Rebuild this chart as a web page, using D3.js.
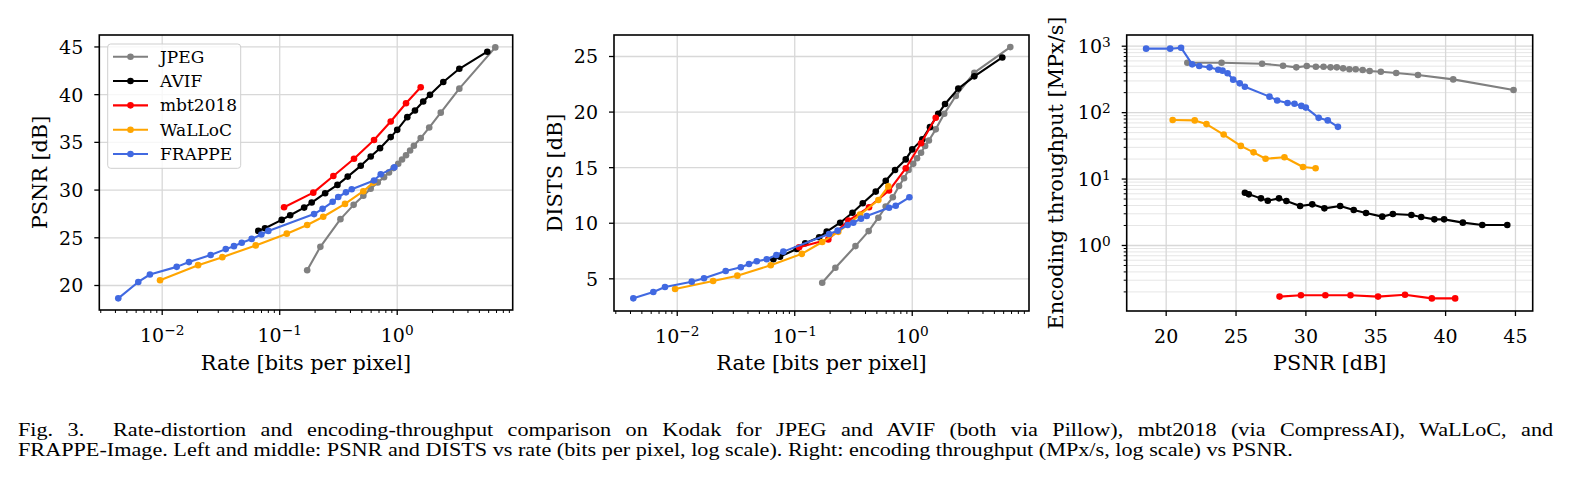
<!DOCTYPE html>
<html>
<head>
<meta charset="utf-8">
<script src="https://cdn.jsdelivr.net/npm/d3@7/dist/d3.min.js"></script>
<style>
  body { margin: 0; background: #fff; width: 1574px; height: 491px; overflow: hidden; position: relative; }
  svg text { font-family: "DejaVu Serif", serif; fill: #000; }
  .cap { position: absolute; left: 18px; width: 1245px; font-family: "Liberation Serif", "Times New Roman", serif;
         font-size: 18px; line-height: 20px; color: #000; transform: scaleX(1.233); transform-origin: 0 0; }
  #cap1 { top: 420px; text-align: justify; text-align-last: justify; white-space: nowrap; }
  #cap2 { top: 440px; white-space: nowrap; }
</style>
</head>
<body>
<svg id="fig" width="1574" height="400"></svg>
<div class="cap" id="cap1">Fig. 3.&nbsp; Rate-distortion and encoding-throughput comparison on Kodak for JPEG and AVIF (both via Pillow), mbt2018 (via CompressAI), WaLLoC, and</div>
<div class="cap" id="cap2">FRAPPE-Image. Left and middle: PSNR and DISTS vs rate (bits per pixel, log scale). Right: encoding throughput (MPx/s, log scale) vs PSNR.</div>
<script>
// codecs, in plot order
const codecs = ["JPEG", "AVIF", "mbt2018", "WaLLoC", "FRAPPE"];
const colors = ["#808080", "#000000", "#ff0000", "#ffa500", "#4169e1"];

// rate [bpp], PSNR [dB], DISTS [dB], encoding throughput [MPx/s]
const jpegRate  = [0.173, 0.224, 0.332, 0.43, 0.52, 0.60, 0.69, 0.78, 0.86, 0.94, 1.03, 1.11, 1.20, 1.30, 1.40, 1.60, 1.89, 2.37, 3.41, 6.9];
const jpegPsnr  = [21.55, 24.0, 26.9, 28.4, 29.35, 30.1, 30.75, 31.3, 31.8, 32.25, 32.7, 33.15, 33.6, 34.1, 34.6, 35.4, 36.5, 38.06, 40.58, 44.9];
const jpegDists = [4.6, 5.95, 7.9, 9.25, 10.45, 11.45, 12.3, 13.3, 14.0, 14.75, 15.3, 15.8, 16.3, 16.9, 17.4, 18.4, 19.8, 21.4, 23.5, 25.8];
const jpegSpeed = [555, 555, 536, 500, 472, 494, 483, 483, 472, 472, 456, 441, 441, 431, 416, 406, 388, 362, 311, 215];

const avifRate  = [0.0664, 0.0757, 0.105, 0.124, 0.163, 0.189, 0.246, 0.313, 0.383, 0.494, 0.601, 0.721, 0.889, 1.01, 1.23, 1.43, 1.68, 1.92, 2.49, 3.41, 5.90];
const avifPsnr  = [25.67, 25.95, 26.82, 27.31, 28.11, 28.64, 29.62, 30.49, 31.36, 32.49, 33.46, 34.34, 35.5, 36.26, 37.59, 38.29, 39.23, 39.93, 41.27, 42.66, 44.45];
const avifDists = [6.71, 6.95, 7.64, 8.15, 8.69, 9.20, 10.0, 10.9, 11.75, 12.8, 13.78, 14.75, 15.7, 16.6, 17.5, 18.6, 19.8, 20.68, 22.07, 23.17, 24.87];
const avifSpeed = [6.12, 5.78, 5.03, 4.64, 5.03, 4.59, 3.86, 4.09, 3.56, 3.86, 3.36, 3.03, 2.67, 2.92, 2.82, 2.64, 2.43, 2.43, 2.17, 2.0, 2.0];

const mbtRate  = [0.110, 0.195, 0.289, 0.433, 0.641, 0.889, 1.20, 1.60];
const mbtPsnr  = [28.15, 29.68, 31.43, 33.23, 35.2, 37.13, 39.05, 40.72];
const mbtDists = [7.8, 8.5, 10.2, 11.4, 12.9, 14.9, 17.15, 19.45];
const mbtSpeed = [0.167, 0.175, 0.175, 0.175, 0.167, 0.178, 0.157, 0.157];

const wallocRate  = [0.00968, 0.0204, 0.0328, 0.0631, 0.116, 0.173, 0.237, 0.363, 0.520, 0.632];
const wallocPsnr  = [20.5, 22.08, 22.92, 24.15, 25.38, 26.29, 27.15, 28.5, 29.83, 30.73];
const wallocDists = [4.04, 4.76, 5.24, 6.17, 7.2, 8.27, 9.18, 10.73, 12.05, 13.27];
const wallocSpeed = [76, 75, 66, 46, 31, 24.8, 19.9, 20.9, 14.9, 14.3];

const frappeRate  = [0.00427, 0.00632, 0.00794, 0.01342, 0.01707, 0.0261, 0.0351, 0.0412, 0.0480, 0.0583, 0.0705, 0.0808, 0.198, 0.234, 0.285, 0.318, 0.370, 0.414, 0.641, 0.731, 0.955];
const frappePsnr  = [18.6, 20.32, 21.1, 21.9, 22.4, 23.14, 23.76, 24.07, 24.43, 24.83, 25.3, 25.67, 27.43, 27.98, 28.72, 29.22, 29.71, 30.03, 30.95, 31.6, 32.33];
const frappeDists = [3.20, 3.77, 4.22, 4.70, 5.0, 5.66, 5.99, 6.29, 6.53, 6.71, 7.10, 7.40, 8.99, 9.29, 9.80, 10.0, 10.37, 10.61, 11.35, 11.53, 12.29];
const frappeSpeed = [902, 902, 933, 524, 494, 472, 435, 421, 384, 308, 271, 241, 171, 150, 137, 134, 124, 117, 82, 75, 60];

// tick values
const rateTicks = [1e-2, 1e-1, 1e0];
const psnrTicks = [20, 25, 30, 35, 40, 45];
const distsTicks = [5, 10, 15, 20, 25];
const speedTicks = [1e0, 1e1, 1e2, 1e3];

const series = [
  {rate: jpegRate, psnr: jpegPsnr, dists: jpegDists, speed: jpegSpeed},
  {rate: avifRate, psnr: avifPsnr, dists: avifDists, speed: avifSpeed},
  {rate: mbtRate, psnr: mbtPsnr, dists: mbtDists, speed: mbtSpeed},
  {rate: wallocRate, psnr: wallocPsnr, dists: wallocDists, speed: wallocSpeed},
  {rate: frappeRate, psnr: frappePsnr, dists: frappeDists, speed: frappeSpeed}
].map((s, i) => ({...s, name: codecs[i], color: colors[i]}));

const svg = d3.select("#fig");
const FS = 19;      // tick labels
const LFS = 20.8;   // axis labels

function logMinor(lo, hi) {
  const out = [];
  for (let e = Math.floor(Math.log10(lo)); e <= Math.ceil(Math.log10(hi)); e++)
    for (let k = 2; k <= 9; k++) {
      const v = k * Math.pow(10, e);
      if (v >= lo && v <= hi) out.push(v);
    }
  return out;
}

function pow10Label(sel) {
  sel.each(function(d) {
    const t = d3.select(this);
    const e = Math.round(Math.log10(d));
    t.text(null);
    t.append("tspan").text("10");
    t.append("tspan").attr("dy", "-0.45em").attr("font-size", "0.72em")
      .text(e < 0 ? "\u2212" + (-e) : String(e));
  });
}

function panel(cfg) {
  const {left, right, top, bottom} = cfg;
  const g = svg.append("g");
  const x = cfg.xLog ? d3.scaleLog() : d3.scaleLinear();
  x.domain(cfg.xDomain).range([left, right]);
  const y = cfg.yLog ? d3.scaleLog() : d3.scaleLinear();
  y.domain(cfg.yDomain).range([bottom, top]);

  // grid
  if (cfg.yLog) {
    g.append("g").attr("transform", `translate(${left},0)`)
      .call(d3.axisLeft(y).tickValues(logMinor(cfg.yDomain[0], cfg.yDomain[1])).tickSize(-(right - left)).tickFormat(""))
      .call(a => a.select(".domain").remove())
      .call(a => a.selectAll("line").attr("stroke", "#e6e6e6").attr("stroke-width", 1));
  }
  g.append("g").attr("transform", `translate(${left},0)`)
    .call(d3.axisLeft(y).tickValues(cfg.yTicks).tickSize(-(right - left)).tickFormat(""))
    .call(a => a.select(".domain").remove())
    .call(a => a.selectAll("line").attr("stroke", "#d8d8d8").attr("stroke-width", 1.3));
  g.append("g").attr("transform", `translate(0,${bottom})`)
    .call(d3.axisBottom(x).tickValues(cfg.xTicks).tickSize(-(bottom - top)).tickFormat(""))
    .call(a => a.select(".domain").remove())
    .call(a => a.selectAll("line").attr("stroke", "#d8d8d8").attr("stroke-width", 1.3));

  // data
  const clip = "clip" + cfg.id;
  g.append("clipPath").attr("id", clip).append("rect")
    .attr("x", left).attr("y", top).attr("width", right - left).attr("height", bottom - top);
  const marks = g.append("g").attr("clip-path", `url(#${clip})`);
  series.forEach(s => {
    const pts = s[cfg.xKey].map((v, i) => [x(v), y(s[cfg.yKey][i])]);
    marks.append("path").attr("d", d3.line()(pts))
      .attr("fill", "none").attr("stroke", s.color).attr("stroke-width", 2.1)
      .attr("stroke-linejoin", "round");
    marks.selectAll(null).data(pts).join("circle")
      .attr("cx", d => d[0]).attr("cy", d => d[1]).attr("r", 3.3).attr("fill", s.color);
  });

  // axes
  const xa = g.append("g").attr("transform", `translate(0,${bottom})`);
  xa.call(d3.axisBottom(x).tickValues(cfg.xTicks).tickSize(5).tickPadding(0));
  xa.select(".domain").remove();
  xa.selectAll("line").attr("stroke-width", 1.3);
  xa.selectAll("text").attr("font-size", FS).attr("font-family", "DejaVu Serif").attr("y", 31.5).attr("dy", 0);
  if (cfg.xLog) {
    xa.selectAll(".tick text").call(pow10Label);
    const xm = g.append("g").attr("transform", `translate(0,${bottom})`)
      .call(d3.axisBottom(x).tickValues(logMinor(cfg.xDomain[0], cfg.xDomain[1])).tickSize(3).tickFormat(""));
    xm.select(".domain").remove();
    xm.selectAll("line").attr("stroke-width", 1);
  }
  const ya = g.append("g").attr("transform", `translate(${left},0)`);
  ya.call(d3.axisLeft(y).tickValues(cfg.yTicks).tickSize(5).tickPadding(11));
  ya.select(".domain").remove();
  ya.selectAll("line").attr("stroke-width", 1.3);
  ya.selectAll("text").attr("font-size", FS).attr("font-family", "DejaVu Serif").attr("dy", "0.36em");
  if (cfg.yLog) {
    ya.selectAll(".tick text").call(pow10Label);
    const ym = g.append("g").attr("transform", `translate(${left},0)`)
      .call(d3.axisLeft(y).tickValues(logMinor(cfg.yDomain[0], cfg.yDomain[1])).tickSize(3).tickFormat(""));
    ym.select(".domain").remove();
    ym.selectAll("line").attr("stroke-width", 1);
  }

  // frame
  g.append("rect").attr("x", left).attr("y", top).attr("width", right - left).attr("height", bottom - top)
    .attr("fill", "none").attr("stroke", "#000").attr("stroke-width", 1.6);

  // labels
  g.append("text").attr("x", (left + right) / 2).attr("y", 369.5).attr("text-anchor", "middle")
    .attr("font-size", LFS).text(cfg.xLabel);
  g.append("text").attr("transform", `translate(${cfg.yLabelX},${(top + bottom) / 2}) rotate(-90)`)
    .attr("text-anchor", "middle").attr("font-size", LFS).text(cfg.yLabel);
  return g;
}

panel({id: 1, left: 99.3, right: 512.7, top: 35, bottom: 310,
  xLog: true, xDomain: [Math.pow(10, -2.531), Math.pow(10, 0.987)], xTicks: rateTicks, xKey: "rate",
  yDomain: [17.38, 46.2], yTicks: psnrTicks, yKey: "psnr",
  xLabel: "Rate [bits per pixel]", yLabel: "PSNR [dB]", yLabelX: 47});

panel({id: 2, left: 614, right: 1029, top: 35, bottom: 311,
  xLog: true, xDomain: [Math.pow(10, -2.534), Math.pow(10, 0.998)], xTicks: rateTicks, xKey: "rate",
  yDomain: [2.06, 26.89], yTicks: distsTicks, yKey: "dists",
  xLabel: "Rate [bits per pixel]", yLabel: "DISTS [dB]", yLabelX: 562});

panel({id: 3, left: 1126.7, right: 1532.7, top: 35, bottom: 311,
  xDomain: [17.21, 46.27], xTicks: psnrTicks, xKey: "psnr",
  yLog: true, yDomain: [0.1014, 1449], yTicks: speedTicks, yKey: "speed",
  xLabel: "PSNR [dB]", yLabel: "Encoding throughput [MPx/s]", yLabelX: 1063});

// legend (first panel)
const lg = svg.append("g");
lg.append("rect").attr("x", 107.7).attr("y", 44).attr("width", 133).attr("height", 124.3).attr("rx", 3)
  .attr("fill", "#fff").attr("fill-opacity", 0.8).attr("stroke", "#cfcfcf").attr("stroke-width", 1);
const rowY = d3.scalePoint().domain(codecs).range([56.7, 154]);
codecs.forEach((name, i) => {
  const yy = rowY(name);
  lg.append("line").attr("x1", 113).attr("x2", 148).attr("y1", yy).attr("y2", yy)
    .attr("stroke", colors[i]).attr("stroke-width", 2.1);
  lg.append("circle").attr("cx", 130.5).attr("cy", yy).attr("r", 3.3).attr("fill", colors[i]);
  lg.append("text").attr("x", 160).attr("y", yy).attr("dy", "0.36em").attr("font-size", 17).text(name);
});
</script>
</body>
</html>
